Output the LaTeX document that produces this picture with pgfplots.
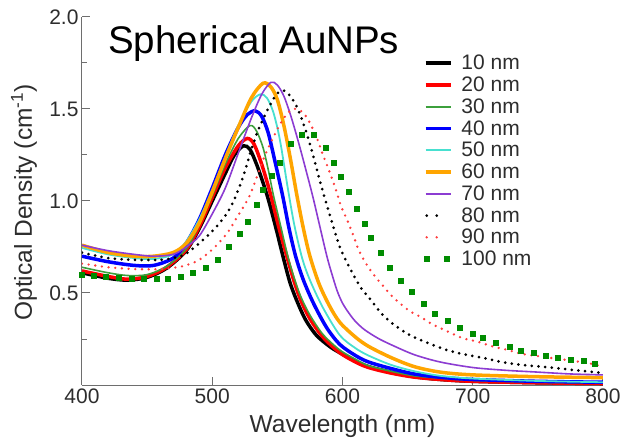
\documentclass[border=0pt]{standalone}
\usepackage{fontspec}
\setmainfont{Liberation Sans}
\usepackage{pgfplots}
\pgfplotsset{compat=1.18}

\definecolor{cgreen}{RGB}{60,160,60}
\definecolor{cblue}{RGB}{0,0,255}
\definecolor{ccyan}{RGB}{72,224,208}
\definecolor{corange}{RGB}{255,165,0}
\definecolor{cpurple}{RGB}{140,60,210}
\definecolor{csq}{RGB}{0,140,0}
\definecolor{cdotred}{RGB}{255,60,60}
\definecolor{axgray}{RGB}{110,110,110}
\definecolor{txtgray}{RGB}{45,45,45}

\pgfplotsset{
  lineleg/.style={legend image code/.code={\draw[##1] (0pt,0pt) -- (25pt,0pt);}},
  dotleg/.style={legend image code/.code={\draw[##1, dash pattern=on 0pt off 10pt] (1pt,0pt) -- (21pt,0pt);}},
  sqleg/.style={legend image code/.code={\draw[##1] plot coordinates {(1pt,0pt)(21pt,0pt)};}},
}

\begin{document}
\begin{tikzpicture}
\path[use as bounding box] (-82pt,-54pt) rectangle (542pt,385pt);
\begin{axis}[
  at={(0,0)}, anchor=south west,
  scale only axis, width=521pt, height=368pt,
  xmin=400, xmax=800, ymin=0, ymax=2,
  axis lines*=left,
  axis line style={-, axgray, line width=1pt},
  tick align=inside,
  major tick length=8pt, minor tick length=5pt,
  tick style={axgray, line width=1pt},
  xtick={400,500,600,700,800},
  ytick={0.5,1,1.5,2},
  minor ytick={0.25,0.75,1.25,1.75},
  yticklabel style={/pgf/number format/fixed, /pgf/number format/fixed zerofill,
                    /pgf/number format/precision=1},
  /pgf/number format/assume math mode=true,
  tick label style={font=\fontsize{21}{21}\selectfont, text=txtgray},
  xlabel={Wavelength (nm)},
  ylabel={Optical Density (cm\textsuperscript{-1})},
  xlabel style={at={(axis description cs:0.5,-0.128)}, anchor=base,
                font=\fontsize{24.5}{25}\selectfont, text=txtgray},
  ylabel style={at={(axis description cs:-0.096,0.496)}, anchor=base,
                font=\fontsize{24.5}{25}\selectfont, text=txtgray},
  legend style={at={(rel axis cs:0.656,0.897)}, anchor=north west,
                draw=none, fill=none, inner sep=0pt, row sep=5.6pt,
                font=\fontsize{21}{21}\selectfont, text=txtgray,
                nodes={inner sep=0pt}},
  legend cell align=left,
  /tikz/every odd column/.append style={column sep=9pt},
  lineleg,
]
% 10 nm
\addplot[black, line width=3.5pt, smooth] coordinates {
  (400,0.61)(420,0.58)(435,0.57)(450,0.585)(465,0.635)(480,0.73)(490,0.85)
  (500,1.00)(510,1.15)(517,1.25)(524,1.30)(529,1.28)(534,1.20)(538,1.12)
  (543,1.01)(549,0.85)(555,0.68)(560,0.55)(566,0.44)(572,0.35)(580,0.27)
  (590,0.21)(598,0.175)(610,0.13)(620,0.10)(637,0.07)(655,0.045)(675,0.03)
  (700,0.02)(750,0.012)(800,0.008)};
\addlegendentry{10 nm}
% 20 nm
\addplot[red, line width=3.5pt, smooth] coordinates {
  (400,0.62)(420,0.59)(435,0.575)(450,0.59)(465,0.64)(480,0.735)(490,0.86)
  (500,1.02)(510,1.18)(520,1.30)(527,1.34)(532,1.31)(537,1.22)(541,1.13)
  (545,1.03)(551,0.86)(558,0.68)(563,0.56)(568,0.46)(575,0.36)(585,0.26)
  (598,0.175)(610,0.125)(620,0.095)(637,0.065)(655,0.043)(675,0.03)
  (700,0.02)(750,0.012)(800,0.008)};
\addlegendentry{20 nm}
% 30 nm
\addplot[cgreen, line width=1.6pt, smooth] coordinates {
  (400,0.64)(420,0.61)(435,0.595)(450,0.60)(465,0.645)(480,0.74)(490,0.87)
  (500,1.03)(510,1.20)(520,1.34)(529,1.41)(534,1.38)(539,1.29)(543,1.17)
  (547,1.03)(552,0.88)(558,0.70)(563,0.58)(568,0.48)(575,0.38)(585,0.275)
  (598,0.19)(610,0.14)(620,0.105)(637,0.075)(655,0.05)(675,0.037)
  (700,0.025)(750,0.015)(800,0.01)};
\addlegendentry{30 nm}
% 40 nm
\addplot[cblue, line width=3.5pt, smooth] coordinates {
  (400,0.70)(420,0.67)(440,0.65)(455,0.65)(470,0.69)(480,0.77)(490,0.90)
  (500,1.07)(510,1.25)(520,1.40)(527,1.47)(533,1.49)(538,1.46)(543,1.37)
  (548,1.22)(554,1.03)(559,0.85)(564,0.70)(570,0.57)(578,0.44)(588,0.31)
  (598,0.22)(610,0.16)(620,0.125)(637,0.09)(655,0.06)(675,0.042)
  (700,0.03)(750,0.02)(800,0.015)};
\addlegendentry{40 nm}
% 50 nm
\addplot[ccyan, line width=1.8pt, smooth] coordinates {
  (400,0.745)(420,0.71)(440,0.69)(455,0.685)(470,0.71)(480,0.78)(490,0.90)
  (500,1.06)(510,1.24)(520,1.41)(530,1.54)(537,1.58)(542,1.56)(547,1.48)
  (552,1.33)(558,1.07)(563,0.87)(569,0.69)(575,0.57)(585,0.42)(598,0.27)
  (610,0.20)(620,0.16)(637,0.11)(655,0.075)(675,0.05)(700,0.035)
  (750,0.022)(800,0.015)};
\addlegendentry{50 nm}
% 60 nm
\addplot[corange, line width=3.5pt, smooth] coordinates {
  (400,0.76)(420,0.72)(440,0.70)(455,0.70)(470,0.72)(480,0.77)(490,0.88)
  (500,1.05)(510,1.23)(520,1.40)(530,1.56)(539,1.64)(545,1.62)(550,1.55)
  (555,1.41)(560,1.23)(565,1.03)(570,0.85)(575,0.70)(582,0.55)(590,0.43)
  (598,0.34)(610,0.26)(620,0.21)(637,0.15)(655,0.10)(675,0.07)
  (700,0.055)(750,0.045)(800,0.04)};
\addlegendentry{60 nm}
% 70 nm
\addplot[cpurple, line width=1.6pt, smooth] coordinates {
  (400,0.76)(420,0.73)(440,0.71)(455,0.70)(470,0.71)(480,0.75)(490,0.81)
  (500,0.93)(510,1.07)(520,1.26)(530,1.45)(538,1.58)(545,1.645)(550,1.63)
  (555,1.57)(560,1.47)(565,1.35)(570,1.22)(577,1.03)(582,0.88)(588,0.70)
  (592,0.60)(596,0.51)(600,0.445)(605,0.39)(610,0.345)(617,0.30)(627,0.255)
  (637,0.22)(655,0.165)(675,0.125)(700,0.095)(725,0.08)(750,0.07)(775,0.06)
  (800,0.055)};
\addlegendentry{70 nm}
% 80 nm
\addplot[black, line width=3pt, line cap=round, dash pattern=on 0pt off 6.7pt,
         smooth, dotleg] coordinates {
  (400,0.72)(420,0.69)(440,0.68)(460,0.68)(470,0.69)(479,0.71)(490,0.77)
  (502,0.85)(510,0.92)(515,0.98)(520,1.06)(525,1.16)(530,1.28)(535,1.38)
  (540,1.46)(545,1.53)(550,1.585)(555,1.60)(560,1.57)(565,1.51)(570,1.42)
  (575,1.31)(580,1.18)(585,1.05)(590,0.93)(598,0.75)(606,0.63)(614,0.53)
  (622,0.46)(631,0.38)(641,0.32)(652,0.27)(665,0.23)(678,0.195)(691,0.17)
  (706,0.15)(722,0.125)(737,0.11)(752,0.10)(773,0.085)(800,0.065)};
\addlegendentry{80 nm}
% 90 nm
\addplot[cdotred, line width=2.6pt, line cap=round, dash pattern=on 0pt off 6.7pt,
         smooth, dotleg] coordinates {
  (400,0.66)(420,0.64)(440,0.63)(460,0.63)(477,0.645)(490,0.68)(502,0.75)
  (512,0.83)(518,0.90)(525,0.98)(530,1.05)(540,1.24)(550,1.39)(556,1.46)
  (562,1.50)(568,1.49)(572,1.46)(576,1.41)(581,1.33)(585,1.25)(590,1.16)
  (595,1.06)(599,0.97)(604,0.89)(609,0.80)(612,0.74)(618,0.66)(625,0.59)
  (631,0.54)(637,0.49)(643,0.45)(652,0.40)(660,0.37)(669,0.33)(681,0.29)
  (692,0.255)(704,0.235)(715,0.21)(727,0.19)(737,0.17)(747,0.16)(757,0.15)
  (768,0.14)(778,0.13)(788,0.12)(800,0.10)};
\addlegendentry{90 nm}
% 100 nm
\addplot[csq, only marks, mark=square*, mark size=2.5pt, sqleg] coordinates {
  (400,0.60)(409,0.595)(418,0.59)(428,0.585)(438,0.58)(447,0.58)(457,0.58)
  (466,0.58)(476,0.59)(485,0.61)(495,0.64)(504,0.68)(513,0.75)(521,0.82)
  (527,0.89)(534,0.98)(539,1.06)(546,1.14)(552,1.21)(560,1.31)(569,1.36)
  (578,1.36)(587,1.29)(593,1.21)(599,1.13)(605,1.05)(611,0.96)(617,0.875)
  (622,0.80)(629,0.72)(636,0.64)(645,0.565)(653,0.505)(662,0.44)(671,0.39)
  (681,0.35)(690,0.31)(700,0.28)(708,0.255)(718,0.23)(728,0.21)(737,0.185)
  (747,0.175)(756,0.16)(765,0.15)(775,0.14)(785,0.13)(794,0.115)};
\addlegendentry{100 nm}
\node[anchor=base west, font=\fontsize{38.5}{40}\selectfont, inner sep=0pt]
  at (axis cs:420,1.80) {Spherical AuNPs};
\end{axis}
\end{tikzpicture}
\end{document}
